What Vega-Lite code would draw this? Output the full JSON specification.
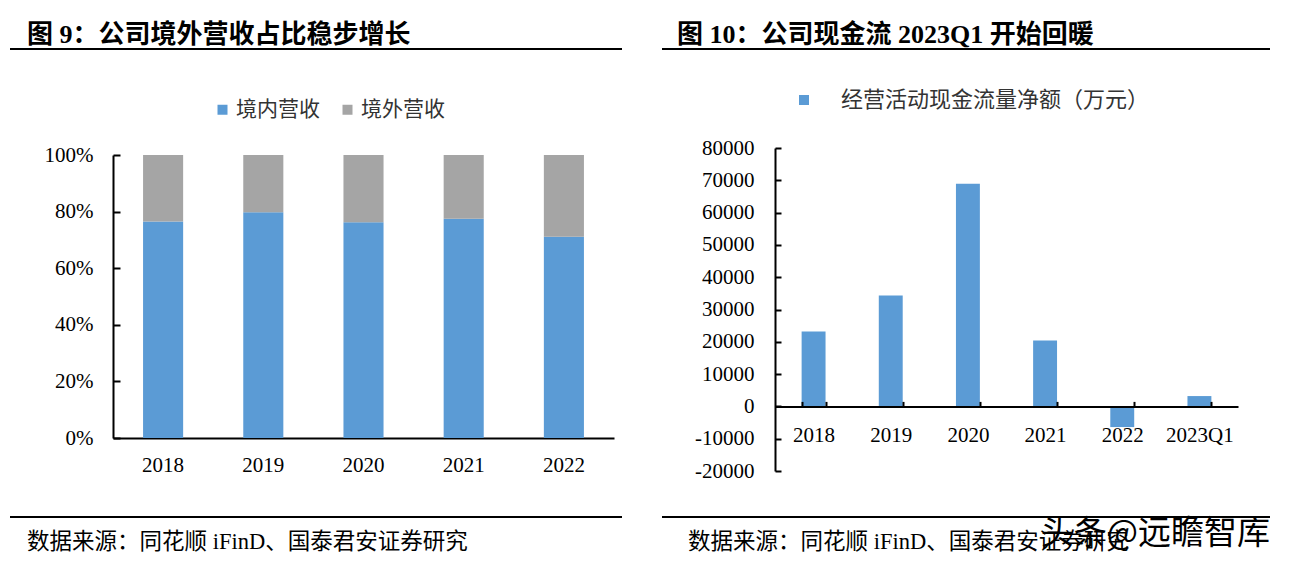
{
  "$schema": "https://vega.github.io/schema/vega-lite/v6.json",
  "background": "white",
  "padding": {"left": 10, "top": 22, "right": 0, "bottom": 0},
  "bounds": "full",
  "spacing": 40,
  "resolve": {"scale": {"color": "independent"}, "legend": {"color": "independent"}},
  "title": {"text": "头条@远瞻智库", "orient": "bottom", "anchor": "end", "offset": -36, "font": "Noto Sans CJK SC", "fontSize": 33, "fontWeight": "normal", "color": "#000"},
  "hconcat": [
    {
      "bounds": "full",
      "spacing": 41,
      "resolve": {"scale": {"color": "independent"}, "legend": {"color": "independent"}},
      "vconcat": [
        {
          "width": 612, "height": 2,
          "view": {"fill": "#000", "stroke": null},
          "title": {"text": "图 9：公司境外营收占比稳步增长", "orient": "top", "anchor": "start", "offset": 0, "dx": 17, "font": "Liberation Serif, Noto Sans CJK SC", "fontSize": 26, "fontWeight": "bold", "color": "#000"},
          "data": {"values": []},
          "mark": "point"
        },
        {
          "bounds": "full",
          "spacing": 10,
          "resolve": {"scale": {"color": "independent"}, "legend": {"color": "independent"}},
          "hconcat": [
            {"width": 24, "height": 1, "data": {"values": []}, "mark": "point"},
            {
              "width": 501, "height": 283,
              "data": {"values": [
                {"year": "2018", "series": "境内营收", "share": 0.765},
                {"year": "2018", "series": "境外营收", "share": 0.235},
                {"year": "2019", "series": "境内营收", "share": 0.798},
                {"year": "2019", "series": "境外营收", "share": 0.202},
                {"year": "2020", "series": "境内营收", "share": 0.762},
                {"year": "2020", "series": "境外营收", "share": 0.238},
                {"year": "2021", "series": "境内营收", "share": 0.775},
                {"year": "2021", "series": "境外营收", "share": 0.225},
                {"year": "2022", "series": "境内营收", "share": 0.711},
                {"year": "2022", "series": "境外营收", "share": 0.289}
              ]},
              "mark": {"type": "bar"},
              "encoding": {
                "x": {"field": "year", "type": "ordinal", "scale": {"paddingInner": 0.6, "paddingOuter": 0.3},
                  "axis": {"title": null, "labelAngle": 0, "ticks": false, "domainColor": "#000", "domainWidth": 2, "labelFont": "Liberation Serif", "labelFontSize": 21, "labelColor": "#000", "labelPadding": 16}},
                "y": {"field": "share", "type": "quantitative", "stack": "zero", "scale": {"domain": [0, 1]},
                  "axis": {"title": null, "values": [0, 0.2, 0.4, 0.6, 0.8, 1], "format": ".0%", "grid": false, "domainColor": "#000", "domainWidth": 2, "tickColor": "#000", "tickWidth": 2, "tickSize": -7, "labelFont": "Liberation Serif", "labelFontSize": 21, "labelColor": "#000", "labelPadding": 27}},
                "color": {"field": "series", "type": "nominal",
                  "scale": {"domain": ["境内营收", "境外营收"], "range": ["#5B9BD5", "#A5A5A5"]},
                  "legend": {"title": null, "orient": "none", "direction": "horizontal", "legendX": 91, "legendY": -64, "padding": 8, "symbolType": "square", "symbolSize": 100, "symbolStrokeWidth": 0, "labelFont": "Noto Sans CJK SC", "labelFontSize": 21, "labelColor": "#333", "labelOffset": 3, "columnPadding": 17}},
                "order": {"field": "series", "sort": "ascending"}
              }
            }
          ]
        },
        {
          "width": 612, "height": 2,
          "view": {"fill": "#000", "stroke": null},
          "title": {"text": "数据来源：同花顺 iFinD、国泰君安证券研究", "orient": "bottom", "anchor": "start", "offset": 13, "dx": 17, "font": "Liberation Serif, Noto Sans CJK SC", "fontSize": 22.5, "fontWeight": "normal", "color": "#000"},
          "data": {"values": []},
          "mark": "point"
        }
      ]
    },
    {
      "bounds": "full",
      "spacing": 35,
      "resolve": {"scale": {"color": "independent"}, "legend": {"color": "independent"}},
      "vconcat": [
        {
          "width": 608, "height": 2,
          "view": {"fill": "#000", "stroke": null},
          "title": {"text": "图 10：公司现金流 2023Q1 开始回暖", "orient": "top", "anchor": "start", "offset": 0, "dx": 15, "font": "Liberation Serif, Noto Sans CJK SC", "fontSize": 26, "fontWeight": "bold", "color": "#000"},
          "data": {"values": []},
          "mark": "point"
        },
        {
          "bounds": "full",
          "spacing": 10,
          "resolve": {"scale": {"color": "independent"}, "legend": {"color": "independent"}},
          "hconcat": [
            {"width": 22, "height": 1, "data": {"values": []}, "mark": "point"},
            {
              "width": 463, "height": 323,
              "data": {"values": [
                {"period": "2018", "series": "经营活动现金流量净额（万元）", "cash": 23200},
                {"period": "2019", "series": "经营活动现金流量净额（万元）", "cash": 34300},
                {"period": "2020", "series": "经营活动现金流量净额（万元）", "cash": 68900},
                {"period": "2021", "series": "经营活动现金流量净额（万元）", "cash": 20400},
                {"period": "2022", "series": "经营活动现金流量净额（万元）", "cash": -6400},
                {"period": "2023Q1", "series": "经营活动现金流量净额（万元）", "cash": 3200}
              ]},
              "mark": {"type": "bar"},
              "encoding": {
                "x": {"field": "period", "type": "ordinal", "scale": {"paddingInner": 0.69, "paddingOuter": 0.345},
                  "axis": {"title": null, "labelAngle": 0, "offset": -64.6, "zindex": 1, "tickBand": "extent", "ticks": true, "tickSize": -5, "tickColor": "#000", "tickWidth": 2, "domainColor": "#000", "domainWidth": 2, "labelFont": "Liberation Serif", "labelFontSize": 21, "labelColor": "#000", "labelPadding": 23}},
                "y": {"field": "cash", "type": "quantitative", "scale": {"domain": [-20000, 80000]},
                  "axis": {"title": null, "values": [-20000, -10000, 0, 10000, 20000, 30000, 40000, 50000, 60000, 70000, 80000], "labelExpr": "datum.value < 0 ? '-' + abs(datum.value) : '' + datum.value", "grid": false, "domainColor": "#000", "domainWidth": 2, "tickColor": "#000", "tickWidth": 2, "tickSize": -6, "labelFont": "Liberation Serif", "labelFontSize": 21, "labelColor": "#000", "labelPadding": 27}},
                "color": {"field": "series", "type": "nominal",
                  "scale": {"range": ["#5B9BD5"]},
                  "legend": {"title": null, "orient": "none", "direction": "horizontal", "legendX": 14, "legendY": -63, "padding": 4, "symbolType": "square", "symbolSize": 100, "symbolStrokeWidth": 0, "labelFont": "Noto Sans CJK SC", "labelFontSize": 22, "labelColor": "#333", "labelOffset": 26, "labelLimit": 400}}
              }
            }
          ]
        },
        {
          "width": 608, "height": 2,
          "view": {"fill": "#000", "stroke": null},
          "title": {"text": "数据来源：同花顺 iFinD、国泰君安证券研究", "orient": "bottom", "anchor": "start", "offset": 13, "dx": 26, "font": "Liberation Serif, Noto Sans CJK SC", "fontSize": 22.5, "fontWeight": "normal", "color": "#000"},
          "data": {"values": []},
          "mark": "point"
        }
      ]
    }
  ],
  "config": {
    "view": {"stroke": null},
    "bar": {"stroke": null}
  }
}
